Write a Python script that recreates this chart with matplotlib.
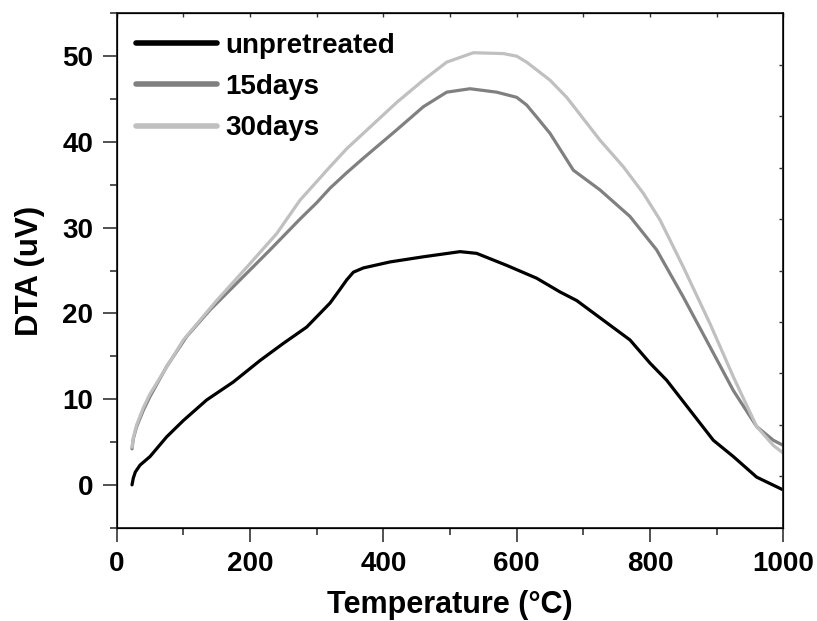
import matplotlib
matplotlib.use("Agg")
import matplotlib.pyplot as plt
from matplotlib.ticker import MultipleLocator

plt.rcParams['font.family'] = ['Liberation Sans', 'DejaVu Sans']
plt.rcParams['font.weight'] = 'bold'

# values
temp_raw = [23, 25, 28, 35, 50, 75, 100, 135, 175, 215, 250, 285, 320, 335, 345, 355, 370, 410, 460,
            515, 540, 585, 630, 665, 690, 730, 770, 800, 825, 860, 895, 925, 960, 1000]
dta_raw = [0.0, 0.8, 1.5, 2.3, 3.3, 5.6, 7.5, 9.9, 12.0, 14.5, 16.5, 18.4, 21.2, 22.8, 23.9, 24.8, 25.3, 26.0, 26.6,
           27.2, 27.0, 25.6, 24.1, 22.5, 21.5, 19.2, 16.9, 14.2, 12.2, 8.7, 5.2, 3.3, 0.9, -0.6]

temp_15 = [23, 25, 30, 40, 50, 75, 105, 140, 185, 230, 275, 300, 320, 345, 370, 420, 460, 495, 530,
           570, 600, 615, 630, 650, 685, 725, 770, 810, 850, 890, 925, 960, 985, 1000]
dta_15 = [4.2, 5.4, 6.8, 8.7, 10.3, 13.8, 17.3, 20.4, 23.9, 27.4, 31.0, 32.9, 34.6, 36.4, 38.1, 41.4, 44.1, 45.8, 46.2,
          45.8, 45.2, 44.3, 42.9, 41.0, 36.7, 34.4, 31.3, 27.4, 21.9, 16.1, 11.0, 6.8, 5.2, 4.6]

temp_30 = [23, 25, 30, 40, 50, 100, 150, 200, 240, 275, 320, 345, 370, 420, 460, 495, 535,
           580, 600, 615, 630, 650, 675, 725, 760, 790, 815, 850, 890, 925, 960, 985, 1000]
dta_30 = [4.4, 5.5, 7.0, 9.0, 10.6, 16.9, 21.5, 25.8, 29.3, 33.2, 37.1, 39.2, 41.0, 44.6, 47.2, 49.3, 50.4,
          50.3, 50.0, 49.3, 48.4, 47.2, 45.2, 40.2, 37.1, 34.0, 30.9, 25.4, 18.8, 12.6, 6.8, 4.6, 3.7]

series_names = ['unpretreated', '15days', '30days']
series_colors = ['#000000', '#808080', '#c0c0c0']

fig = plt.figure(figsize=(8.17, 6.21), dpi=100)
ax = fig.add_axes([0.1428, 0.1502, 0.816, 0.8284])

for xs, ys, c, name in [(temp_raw, dta_raw, series_colors[0], series_names[0]),
                        (temp_15, dta_15, series_colors[1], series_names[1]),
                        (temp_30, dta_30, series_colors[2], series_names[2])]:
    ax.plot(xs, ys, color=c, lw=2.3, label=name, solid_joinstyle='round', solid_capstyle='round')

ax.set_xlim(0, 1000)
ax.set_ylim(-5, 55)
ax.xaxis.set_major_locator(MultipleLocator(200))
ax.xaxis.set_minor_locator(MultipleLocator(100))
ax.yaxis.set_major_locator(MultipleLocator(10))
ax.yaxis.set_minor_locator(MultipleLocator(5))
ax.tick_params(which='major', direction='out', length=10, width=1.2, labelsize=20, pad=7, color='#333333')
ax.tick_params(which='minor', direction='out', length=5, width=1.2, color='#333333')
for s in ax.spines.values():
    s.set_linewidth(1.3)
    s.set_color('#222222')

ax.set_xlabel('Temperature (°C)', fontsize=22, fontweight='bold', labelpad=9)
ax.set_ylabel('DTA (uV)', fontsize=22.5, fontweight='bold', labelpad=12)

# top / right small inner ticks
top = ax.twiny()
top.set_xlim(0, 1000)
top.xaxis.set_major_locator(MultipleLocator(100))
top.tick_params(direction='in', length=3, width=1, labeltop=False, color='#333333')
right = ax.twinx()
right.set_ylim(0, 10)
right.set_yticks(range(1, 10))
right.tick_params(direction='in', length=3, width=1, labelright=False, color='#333333')

leg = ax.legend(loc='upper left', frameon=False, fontsize=20, handlelength=2.9,
                handletextpad=0.3, labelspacing=0.55, borderaxespad=0.3)
for line in leg.get_lines():
    line.set_linewidth(4)

fig.savefig('out.png', dpi=100)
